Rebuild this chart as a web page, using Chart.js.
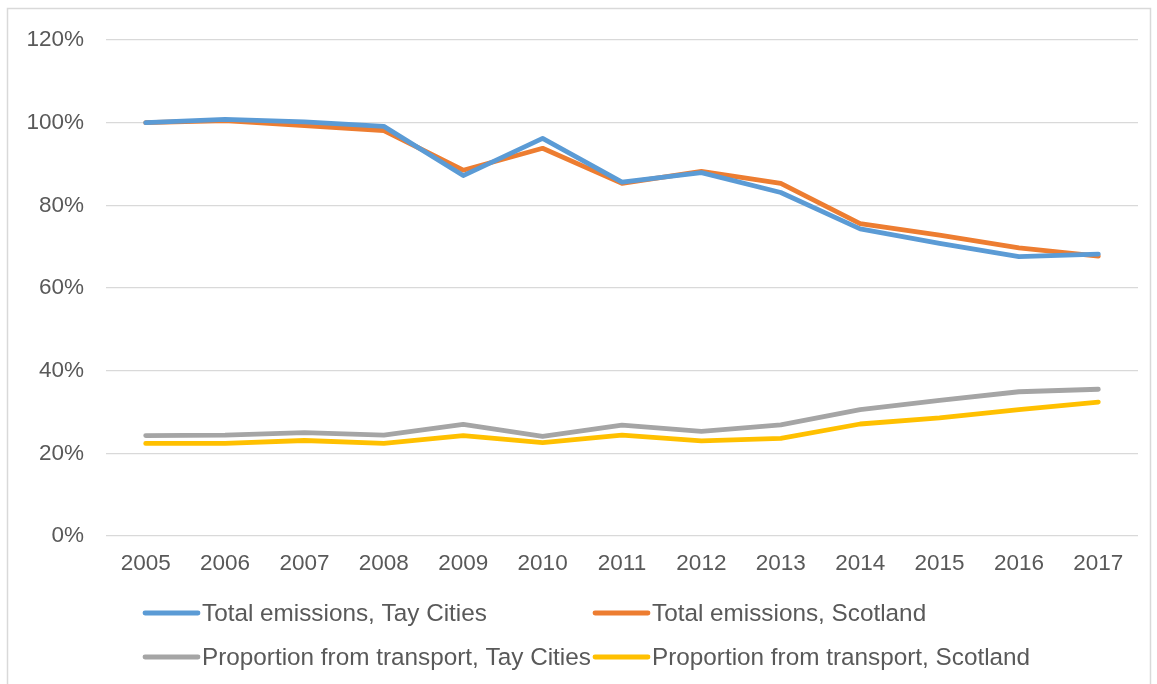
<!DOCTYPE html>
<html>
<head>
<meta charset="utf-8">
<script src="https://cdn.jsdelivr.net/npm/chart.js@4.4.0/dist/chart.umd.min.js"></script>
<style>
  html, body { margin: 0; padding: 0; background: #ffffff; }
  #wrap { position: relative; width: 1157px; height: 684px; }
  canvas { display: block; }
</style>
</head>
<body>
<div id="wrap"><canvas id="chart" width="1157" height="684"></canvas></div>
<script>
// Emissions indexed to 2005 (=100%) and share of emissions from transport
const years = ['2005', '2006', '2007', '2008', '2009', '2010', '2011', '2012', '2013', '2014', '2015', '2016', '2017'];
const totalTayCities = [100, 100.8, 100.2, 99.1, 87.2, 96.2, 85.6, 87.9, 83.1, 74.3, 70.8, 67.6, 68.2];
const totalScotland = [100, 100.5, 99.3, 98.1, 88.5, 93.8, 85.3, 88.2, 85.3, 75.6, 72.8, 69.7, 67.7];
const transportTayCities = [24.3, 24.4, 25.0, 24.4, 27.0, 24.1, 26.8, 25.3, 26.9, 30.6, 32.8, 34.9, 35.5];
const transportScotland = [22.4, 22.4, 23.1, 22.4, 24.3, 22.6, 24.4, 23.0, 23.6, 27.1, 28.6, 30.6, 32.4];
const seriesLabels = [
  'Total emissions, Tay Cities',
  'Total emissions, Scotland',
  'Proportion from transport, Tay Cities',
  'Proportion from transport, Scotland'
];
const seriesColours = ['#5B9BD5', '#ED7D31', '#A5A5A5', '#FFC000'];
const yTicks = [0, 20, 40, 60, 80, 100, 120];

const FONT = '"Liberation Sans", Arial, sans-serif';
const TEXT = '#595959';

function lineSet(i, data) {
  return {
    label: seriesLabels[i],
    data: data,
    borderColor: seriesColours[i],
    backgroundColor: seriesColours[i],
    borderWidth: 4.8,
    borderCapStyle: 'round',
    borderJoinStyle: 'round',
    pointRadius: 0,
    pointHoverRadius: 0,
    tension: 0,
    fill: false
  };
}

// Frame around the chart and a two-column legend under the plot
const framePlugin = {
  id: 'frameAndLegend',
  beforeDraw(chart) {
    const ctx = chart.ctx;
    ctx.save();
    ctx.fillStyle = '#ffffff';
    ctx.fillRect(0, 0, chart.width, chart.height);
    ctx.strokeStyle = '#D9D9D9';
    ctx.lineWidth = 1.5;
    ctx.strokeRect(7.5, 8.5, chart.width - 14, chart.height + 10);
    ctx.restore();
  },
  afterDraw(chart) {
    const ctx = chart.ctx;
    const cols = [143, 593];
    const rows = [613, 657];
    ctx.save();
    ctx.font = '24.3px ' + FONT;
    ctx.textBaseline = 'middle';
    ctx.textAlign = 'left';
    chart.data.datasets.forEach((ds, i) => {
      const x = cols[i % 2];
      const y = rows[Math.floor(i / 2)];
      ctx.strokeStyle = ds.borderColor;
      ctx.lineWidth = 4.8;
      ctx.lineCap = 'round';
      ctx.beginPath();
      ctx.moveTo(x + 2, y);
      ctx.lineTo(x + 55, y);
      ctx.stroke();
      ctx.fillStyle = TEXT;
      ctx.fillText(ds.label, x + 59, y + 1);
    });
    ctx.restore();
  }
};

new Chart(document.getElementById('chart'), {
  type: 'line',
  data: {
    labels: years,
    datasets: [
      lineSet(0, totalTayCities),
      lineSet(1, totalScotland),
      lineSet(2, transportTayCities),
      lineSet(3, transportScotland)
    ]
  },
  options: {
    responsive: false,
    animation: false,
    devicePixelRatio: 1,
    layout: { padding: { top: 40, right: 19, bottom: 103, left: 0 } },
    plugins: {
      legend: { display: false },
      tooltip: { enabled: false }
    },
    scales: {
      x: {
        offset: true,
        grid: { display: false, drawTicks: false },
        border: { display: false },
        ticks: {
          color: TEXT,
          font: { family: FONT, size: 22.5 },
          padding: 14,
          maxRotation: 0
        },
        afterFit(scale) { scale.height = 45; }
      },
      y: {
        min: yTicks[0],
        max: yTicks[yTicks.length - 1],
        afterBuildTicks(scale) { scale.ticks = yTicks.map(v => ({ value: v })); },
        grid: { color: '#D9D9D9', lineWidth: 1.3, drawTicks: false },
        border: { display: false },
        ticks: {
          color: TEXT,
          font: { family: FONT, size: 22.5 },
          padding: 22,
          callback: v => v + '%'
        },
        afterFit(scale) { scale.width = 106; }
      }
    }
  },
  plugins: [framePlugin]
});
</script>
</body>
</html>
